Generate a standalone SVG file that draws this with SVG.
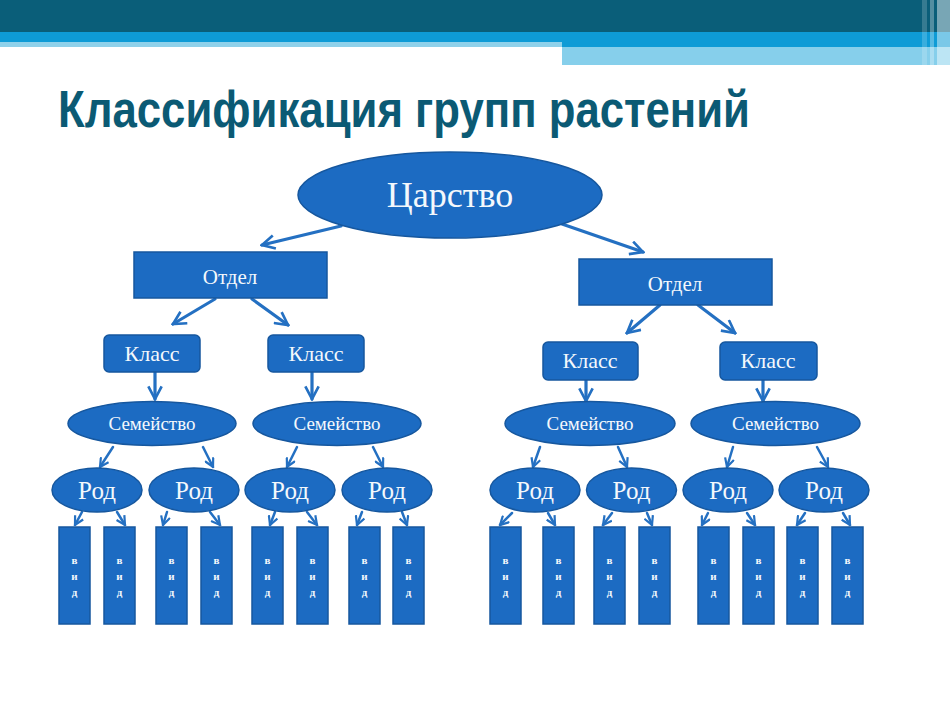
<svg xmlns="http://www.w3.org/2000/svg" width="950" height="712" viewBox="0 0 950 712">
<defs>
<style>
.node{fill:#1c6bc2;stroke:#16579e;stroke-width:1.5}
.t{font-family:"Liberation Serif","Times New Roman",serif;fill:#f4f8fc;text-anchor:middle}
.v{font-family:"Liberation Serif","Times New Roman",serif;fill:#f4f8fc;text-anchor:middle;font-weight:bold;font-size:11px}
.c{fill:none;stroke:#2470c2;stroke-width:3.2;stroke-linecap:round}
.cs{fill:none;stroke:#2470c2;stroke-width:2.5;stroke-linecap:round}
</style>
<marker id="ah" viewBox="0 0 12 12" refX="10.5" refY="6" markerWidth="16" markerHeight="16" markerUnits="userSpaceOnUse" orient="auto">
<path d="M1,1 L10.5,6 L1,11" fill="none" stroke="#2470c2" stroke-width="2"/>
</marker>
<marker id="ahs" viewBox="0 0 12 12" refX="10.5" refY="6" markerWidth="11" markerHeight="11" markerUnits="userSpaceOnUse" orient="auto">
<path d="M1,1 L10.5,6 L1,11" fill="none" stroke="#2470c2" stroke-width="2.4"/>
</marker>
</defs>
<rect width="950" height="712" fill="#ffffff"/>
<g id="header">
<rect x="0" y="0" width="950" height="32" fill="#0a5e79"/>
<rect x="0" y="32" width="950" height="10" fill="#0e9bd6"/>
<rect x="0" y="42" width="562" height="5" fill="#8fd1ea"/>
<rect x="562" y="42" width="388" height="5" fill="#0e9bd6"/>
<rect x="562" y="47" width="388" height="18" fill="#86cfeb"/>
<rect x="922" y="0" width="5" height="65" fill="#ffffff" opacity="0.18"/>
<rect x="930" y="0" width="4" height="65" fill="#ffffff" opacity="0.3"/>
<rect x="937" y="0" width="13" height="65" fill="#ffffff" opacity="0.45"/>
</g>
<text x="58" y="127" font-family="'Liberation Sans',Arial,sans-serif" font-weight="bold" font-size="52" fill="#0b5a74" textLength="692" lengthAdjust="spacingAndGlyphs">Классификация групп растений</text>
<g id="connectors">
<path class="c" d="M341,226 L262,245" marker-end="url(#ah)"/>
<path class="c" d="M562,224 L643,252" marker-end="url(#ah)"/>
<path class="c" d="M215,299 L173,324" marker-end="url(#ah)"/>
<path class="c" d="M252,299 L288,325" marker-end="url(#ah)"/>
<path class="c" d="M660,305 L627,333" marker-end="url(#ah)"/>
<path class="c" d="M698,305 L735,333" marker-end="url(#ah)"/>
<path class="c" d="M155,372 L155,399" marker-end="url(#ah)"/>
<path class="c" d="M312,372 L312,399" marker-end="url(#ah)"/>
<path class="c" d="M586,380 L586,401" marker-end="url(#ah)"/>
<path class="c" d="M763,380 L763,401" marker-end="url(#ah)"/>
<path class="cs" d="M113,447 L100,467" marker-end="url(#ahs)"/>
<path class="cs" d="M203,447 L213,467" marker-end="url(#ahs)"/>
<path class="cs" d="M297,447 L287,467" marker-end="url(#ahs)"/>
<path class="cs" d="M373,447 L383,467" marker-end="url(#ahs)"/>
<path class="cs" d="M540,447 L533,467" marker-end="url(#ahs)"/>
<path class="cs" d="M618,447 L627,467" marker-end="url(#ahs)"/>
<path class="cs" d="M733,447 L727,467" marker-end="url(#ahs)"/>
<path class="cs" d="M817,447 L828,467" marker-end="url(#ahs)"/>
<path class="cs" d="M82,512 L75,525" marker-end="url(#ahs)"/>
<path class="cs" d="M117,512 L125,525" marker-end="url(#ahs)"/>
<path class="cs" d="M167,512 L163,525" marker-end="url(#ahs)"/>
<path class="cs" d="M210,512 L220,525" marker-end="url(#ahs)"/>
<path class="cs" d="M275,512 L270,525" marker-end="url(#ahs)"/>
<path class="cs" d="M307,512 L317,525" marker-end="url(#ahs)"/>
<path class="cs" d="M362,512 L357,525" marker-end="url(#ahs)"/>
<path class="cs" d="M402,512 L407,525" marker-end="url(#ahs)"/>
<path class="cs" d="M512,513 L500,525" marker-end="url(#ahs)"/>
<path class="cs" d="M548,513 L555,525" marker-end="url(#ahs)"/>
<path class="cs" d="M612,513 L603,525" marker-end="url(#ahs)"/>
<path class="cs" d="M647,513 L652,525" marker-end="url(#ahs)"/>
<path class="cs" d="M708,513 L702,525" marker-end="url(#ahs)"/>
<path class="cs" d="M747,513 L755,525" marker-end="url(#ahs)"/>
<path class="cs" d="M805,513 L797,525" marker-end="url(#ahs)"/>
<path class="cs" d="M843,513 L850,525" marker-end="url(#ahs)"/>
</g>
<g id="tsarstvo"><ellipse class="node" cx="450" cy="195" rx="152" ry="43"/><text class="t" x="450" y="207" font-size="36">Царство</text></g>
<g id="otdel-1"><rect class="node" x="134" y="252" width="193" height="46"/><text class="t" x="230" y="284" font-size="21">Отдел</text></g>
<g id="otdel-2"><rect class="node" x="579" y="259" width="193" height="46"/><text class="t" x="675" y="291" font-size="21">Отдел</text></g>
<g id="klass-1"><rect class="node" x="104" y="335" width="96" height="37" rx="5"/><text class="t" x="152" y="361" font-size="22">Класс</text></g>
<g id="klass-2"><rect class="node" x="268" y="335" width="96" height="37" rx="5"/><text class="t" x="316" y="361" font-size="22">Класс</text></g>
<g id="klass-3"><rect class="node" x="543" y="342" width="95" height="38" rx="5"/><text class="t" x="590" y="368" font-size="22">Класс</text></g>
<g id="klass-4"><rect class="node" x="720" y="342" width="97" height="38" rx="5"/><text class="t" x="768" y="368" font-size="22">Класс</text></g>
<g id="sem-1"><ellipse class="node" cx="152" cy="423.5" rx="84" ry="22"/><text class="t" x="152" y="430" font-size="19" textLength="87" lengthAdjust="spacingAndGlyphs">Семейство</text></g>
<g id="sem-2"><ellipse class="node" cx="337" cy="423.5" rx="84" ry="22"/><text class="t" x="337" y="430" font-size="19" textLength="87" lengthAdjust="spacingAndGlyphs">Семейство</text></g>
<g id="sem-3"><ellipse class="node" cx="590" cy="423.5" rx="85" ry="22"/><text class="t" x="590" y="430" font-size="19" textLength="87" lengthAdjust="spacingAndGlyphs">Семейство</text></g>
<g id="sem-4"><ellipse class="node" cx="775.5" cy="423.5" rx="84.5" ry="22"/><text class="t" x="775.5" y="430" font-size="19" textLength="87" lengthAdjust="spacingAndGlyphs">Семейство</text></g>
<g id="rod-1"><ellipse class="node" cx="97" cy="490" rx="45" ry="22"/><text class="t" x="97" y="499" font-size="25">Род</text></g>
<g id="rod-2"><ellipse class="node" cx="194" cy="490" rx="45" ry="22"/><text class="t" x="194" y="499" font-size="25">Род</text></g>
<g id="rod-3"><ellipse class="node" cx="290" cy="490" rx="45" ry="22"/><text class="t" x="290" y="499" font-size="25">Род</text></g>
<g id="rod-4"><ellipse class="node" cx="387" cy="490" rx="45" ry="22"/><text class="t" x="387" y="499" font-size="25">Род</text></g>
<g id="rod-5"><ellipse class="node" cx="535" cy="490" rx="45" ry="22"/><text class="t" x="535" y="499" font-size="25">Род</text></g>
<g id="rod-6"><ellipse class="node" cx="631.5" cy="490" rx="45" ry="22"/><text class="t" x="631.5" y="499" font-size="25">Род</text></g>
<g id="rod-7"><ellipse class="node" cx="728" cy="490" rx="45" ry="22"/><text class="t" x="728" y="499" font-size="25">Род</text></g>
<g id="rod-8"><ellipse class="node" cx="824" cy="490" rx="45" ry="22"/><text class="t" x="824" y="499" font-size="25">Род</text></g>
<g id="vid-1"><rect class="node" x="59" y="527" width="31" height="97"/><text class="v" x="74.5" y="564">в</text><text class="v" x="74.5" y="580">и</text><text class="v" x="74.5" y="596">д</text></g>
<g id="vid-2"><rect class="node" x="104" y="527" width="31" height="97"/><text class="v" x="119.5" y="564">в</text><text class="v" x="119.5" y="580">и</text><text class="v" x="119.5" y="596">д</text></g>
<g id="vid-3"><rect class="node" x="156" y="527" width="31" height="97"/><text class="v" x="171.5" y="564">в</text><text class="v" x="171.5" y="580">и</text><text class="v" x="171.5" y="596">д</text></g>
<g id="vid-4"><rect class="node" x="201" y="527" width="31" height="97"/><text class="v" x="216.5" y="564">в</text><text class="v" x="216.5" y="580">и</text><text class="v" x="216.5" y="596">д</text></g>
<g id="vid-5"><rect class="node" x="252" y="527" width="31" height="97"/><text class="v" x="267.5" y="564">в</text><text class="v" x="267.5" y="580">и</text><text class="v" x="267.5" y="596">д</text></g>
<g id="vid-6"><rect class="node" x="297" y="527" width="31" height="97"/><text class="v" x="312.5" y="564">в</text><text class="v" x="312.5" y="580">и</text><text class="v" x="312.5" y="596">д</text></g>
<g id="vid-7"><rect class="node" x="349" y="527" width="31" height="97"/><text class="v" x="364.5" y="564">в</text><text class="v" x="364.5" y="580">и</text><text class="v" x="364.5" y="596">д</text></g>
<g id="vid-8"><rect class="node" x="393" y="527" width="31" height="97"/><text class="v" x="408.5" y="564">в</text><text class="v" x="408.5" y="580">и</text><text class="v" x="408.5" y="596">д</text></g>
<g id="vid-9"><rect class="node" x="490" y="527" width="31" height="97"/><text class="v" x="505.5" y="564">в</text><text class="v" x="505.5" y="580">и</text><text class="v" x="505.5" y="596">д</text></g>
<g id="vid-10"><rect class="node" x="543" y="527" width="31" height="97"/><text class="v" x="558.5" y="564">в</text><text class="v" x="558.5" y="580">и</text><text class="v" x="558.5" y="596">д</text></g>
<g id="vid-11"><rect class="node" x="594" y="527" width="31" height="97"/><text class="v" x="609.5" y="564">в</text><text class="v" x="609.5" y="580">и</text><text class="v" x="609.5" y="596">д</text></g>
<g id="vid-12"><rect class="node" x="639" y="527" width="31" height="97"/><text class="v" x="654.5" y="564">в</text><text class="v" x="654.5" y="580">и</text><text class="v" x="654.5" y="596">д</text></g>
<g id="vid-13"><rect class="node" x="698" y="527" width="31" height="97"/><text class="v" x="713.5" y="564">в</text><text class="v" x="713.5" y="580">и</text><text class="v" x="713.5" y="596">д</text></g>
<g id="vid-14"><rect class="node" x="743" y="527" width="31" height="97"/><text class="v" x="758.5" y="564">в</text><text class="v" x="758.5" y="580">и</text><text class="v" x="758.5" y="596">д</text></g>
<g id="vid-15"><rect class="node" x="787" y="527" width="31" height="97"/><text class="v" x="802.5" y="564">в</text><text class="v" x="802.5" y="580">и</text><text class="v" x="802.5" y="596">д</text></g>
<g id="vid-16"><rect class="node" x="832" y="527" width="31" height="97"/><text class="v" x="847.5" y="564">в</text><text class="v" x="847.5" y="580">и</text><text class="v" x="847.5" y="596">д</text></g>
</svg>
